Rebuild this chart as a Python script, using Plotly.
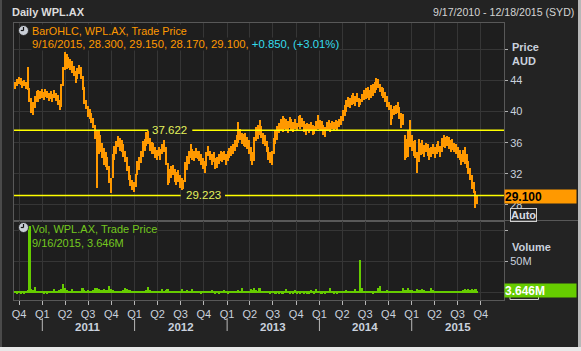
import numpy as np
import pandas as pd
import plotly.graph_objects as go
from plotly.subplots import make_subplots

# ---------------- data ----------------
week_dates = list(pd.date_range("2010-09-17", periods=261, freq="7D")) + [pd.Timestamp("2015-09-16")]

price_low = [
    42.9, 43.3, 43.6, 43.4, 43.0, 43.3, 42.9, 42.8, 41.3, 39.8,
    39.6, 40.5, 41.2, 41.3, 41.6, 41.8, 41.5, 41.9, 41.7, 41.4,
    41.6, 41.3, 41.8, 41.4, 40.8, 40.2, 40.6, 43.3, 45.3, 45.5,
    45.6, 45.3, 45.0, 44.6, 43.7, 44.2, 44.8, 44.2, 42.8, 41.0,
    40.3, 39.3, 39.0, 38.5, 37.9, 36.5, 30.2, 34.5, 34.8, 34.0,
    33.2, 32.9, 32.5, 30.8, 29.5, 31.5, 33.8, 34.5, 35.5, 35.0,
    34.8, 34.2, 33.5, 32.4, 31.2, 30.4, 29.9, 29.7, 30.3, 31.8,
    32.5, 33.4, 34.2, 35.0, 35.6, 35.8, 35.0, 34.6, 34.5, 34.1,
    33.8, 34.3, 33.8, 34.5, 34.8, 33.2, 30.6, 30.8, 31.5, 31.8,
    31.0, 30.6, 30.9, 30.2, 29.9, 30.0, 31.0, 32.5, 33.3, 34.0,
    33.8, 33.6, 34.0, 33.9, 33.7, 33.2, 32.6, 32.1, 33.0, 34.3,
    33.8, 33.2, 33.5, 32.6, 32.8, 33.3, 33.7, 33.5, 33.8, 33.2,
    33.6, 34.0, 34.3, 34.6, 35.0, 35.4, 36.0, 36.3, 35.8, 35.6,
    35.5, 35.2, 34.5, 33.6, 33.1, 33.6, 36.2, 36.5, 37.0, 36.6,
    35.8, 35.6, 34.8, 33.8, 33.4, 33.1, 34.5, 35.8, 36.3, 37.3,
    37.6, 37.4, 37.8, 37.5, 37.2, 37.9, 37.6, 37.4, 37.8, 37.5,
    38.0, 37.8, 38.0, 37.4, 37.0, 37.5, 37.2, 37.6, 37.0, 37.1,
    37.6, 37.8, 37.5, 37.6, 37.0, 36.8, 37.6, 37.7, 37.4, 37.8,
    37.5, 37.8, 37.6, 38.0, 38.3, 38.8, 39.5, 40.0, 40.6, 40.5,
    40.8, 41.0, 40.7, 41.2, 40.6, 40.8, 41.2, 41.5, 41.6, 41.8,
    41.5, 41.8, 42.0, 42.4, 42.8, 43.0, 42.5, 42.0, 41.8, 41.3,
    40.6, 40.2, 38.3, 39.0, 39.6, 39.7, 39.8, 39.0, 37.9, 38.3,
    33.8, 34.0, 34.2, 35.5, 35.0, 34.3, 34.0, 32.1, 33.5, 34.4,
    34.6, 34.2, 34.8, 34.3, 33.8, 34.2, 34.5, 34.0, 34.6, 34.8,
    34.2, 34.8, 35.5, 35.3, 35.6, 35.2, 34.8, 35.1, 34.8, 34.5,
    34.0, 33.8, 33.1, 33.5, 33.3, 32.8, 32.0, 31.2, 30.0, 29.5,
    27.6, 28.17,
]

price_high = [
    43.8, 44.2, 44.5, 44.3, 44.0, 44.1, 43.8, 45.7, 43.0, 41.8,
    41.2, 42.0, 42.6, 42.8, 42.6, 42.9, 42.5, 42.9, 42.6, 42.4,
    42.7, 42.3, 42.8, 42.4, 42.2, 41.5, 43.5, 45.8, 47.7, 47.4,
    47.0, 46.8, 46.5, 45.9, 45.2, 45.6, 46.0, 45.8, 44.6, 43.2,
    41.5, 40.7, 40.3, 39.8, 39.2, 38.3, 37.5, 37.5, 37.0, 36.0,
    35.3, 34.8, 34.2, 33.0, 31.5, 34.5, 35.6, 36.2, 36.9, 36.6,
    36.4, 35.8, 35.0, 34.2, 33.0, 31.8, 31.2, 31.0, 32.0, 33.6,
    34.2, 35.0, 36.2, 36.5, 37.4, 37.5, 36.6, 36.1, 36.0, 35.4,
    35.1, 35.5, 35.2, 35.8, 36.4, 35.5, 33.4, 32.6, 33.0, 33.1,
    32.6, 32.2, 32.5, 31.8, 31.5, 31.2, 33.5, 34.3, 35.0, 35.8,
    35.2, 35.0, 35.3, 35.0, 34.9, 34.5, 34.0, 33.6, 34.8, 35.6,
    35.0, 34.6, 34.8, 34.0, 34.2, 34.6, 35.0, 34.8, 35.0, 34.6,
    35.0, 35.3, 35.6, 35.9, 36.4, 37.0, 38.7, 37.8, 37.3, 37.1,
    37.2, 36.8, 36.3, 35.4, 34.8, 36.8, 38.0, 38.3, 38.9, 38.2,
    37.3, 37.0, 36.2, 35.4, 34.8, 35.0, 36.6, 37.5, 38.2, 38.6,
    39.0, 39.4, 39.2, 39.0, 38.8, 39.3, 39.0, 38.7, 39.0, 38.6,
    39.4, 39.6, 39.2, 38.8, 38.4, 38.6, 38.4, 38.7, 38.3, 38.2,
    38.8, 39.6, 38.9, 38.8, 38.3, 38.0, 38.7, 38.9, 38.6, 38.8,
    38.7, 38.9, 38.8, 39.1, 39.4, 40.2, 40.8, 41.5, 41.9, 41.8,
    42.2, 42.4, 42.0, 42.4, 41.8, 41.6, 42.3, 42.8, 43.0, 43.2,
    42.8, 43.4, 43.6, 43.8, 44.3, 44.2, 43.6, 43.2, 43.0, 42.5,
    42.0, 41.3, 40.8, 40.3, 40.7, 40.9, 41.2, 40.6, 39.8, 39.7,
    37.0, 36.5, 37.5, 38.9, 37.0, 36.2, 36.4, 34.8, 36.5, 36.0,
    36.3, 35.7, 36.0, 35.8, 35.3, 35.5, 35.9, 35.4, 35.9, 36.2,
    35.6, 36.6, 37.0, 36.8, 36.9, 36.8, 36.3, 36.5, 36.0, 35.8,
    35.4, 35.1, 34.6, 35.1, 35.5, 34.6, 33.6, 32.8, 31.8, 31.0,
    29.8, 29.15,
]

volume_m = [
    3.5, 3.0, 3.2, 2.8, 3.4, 3.0, 3.6, 4.5, 108.0, 7.0,
    5.0, 9.5, 4.0, 3.5, 3.2, 3.8, 3.0, 3.4, 3.1, 3.6,
    3.3, 4.2, 6.0, 3.5, 4.0, 4.8, 6.5, 14.0, 8.0, 5.5,
    4.0, 3.5, 6.0, 3.8, 4.2, 3.6, 4.0, 3.5, 8.0, 4.5,
    4.0, 4.8, 3.6, 4.2, 5.0, 9.0, 8.5, 7.0, 4.5, 5.0,
    7.0, 4.5, 5.0, 12.0, 6.0, 5.5, 4.0, 3.8, 4.2, 3.6,
    4.0, 4.5, 8.0, 6.0, 4.5, 5.0, 4.2, 3.8, 4.0, 3.5,
    3.8, 4.2, 3.6, 4.0, 5.0, 10.0, 4.5, 3.8, 4.0, 3.4,
    3.6, 3.2, 3.8, 6.0, 4.0, 4.5, 7.0, 4.2, 3.8, 4.0,
    3.5, 4.0, 3.6, 4.2, 6.0, 4.0, 3.8, 4.5, 3.6, 3.4,
    6.0, 3.8, 3.5, 3.2, 3.6, 3.0, 3.4, 3.8, 3.2, 3.5,
    3.6, 5.5, 3.2, 3.0, 3.4, 3.1, 3.6, 3.3, 5.0, 3.2,
    3.0, 3.4, 3.2, 3.6, 3.3, 3.8, 4.5, 3.6, 8.0, 4.0,
    3.5, 3.8, 4.2, 7.0, 4.5, 9.0, 5.0, 4.0, 9.0, 4.2,
    3.8, 4.0, 3.4, 3.2, 3.0, 3.5, 3.2, 3.0, 3.4, 3.1,
    3.3, 3.0, 3.6, 6.0, 3.2, 3.0, 3.4, 3.1, 4.5, 3.0,
    3.2, 2.9, 3.3, 3.0, 3.4, 3.1, 2.8, 4.5, 3.2, 3.0,
    6.0, 3.2, 3.4, 3.0, 3.3, 3.1, 3.5, 3.2, 8.0, 3.4,
    3.0, 3.3, 3.1, 3.4, 3.2, 3.6, 3.8, 4.5, 3.5, 3.3,
    3.6, 3.4, 6.0, 3.5, 3.8, 54.0, 8.0, 3.6, 3.4, 3.2,
    3.5, 3.3, 3.0, 3.6, 3.4, 8.0, 12.0, 4.0, 3.8, 3.6,
    4.5, 3.8, 4.0, 3.6, 3.4, 3.8, 3.5, 3.6, 4.0, 8.0,
    5.5, 4.5, 8.0, 5.0, 4.5, 4.2, 4.0, 6.0, 4.8, 4.5,
    6.0, 5.0, 4.2, 3.8, 4.0, 9.0, 4.5, 4.0, 3.6, 3.8,
    4.0, 3.6, 3.4, 3.8, 3.5, 3.6, 3.4, 4.0, 3.6, 3.8,
    3.5, 3.8, 4.0, 4.5, 6.0, 4.5, 6.0, 5.5, 6.0, 5.0,
    6.5, 3.646,
]

levels = [37.622, 29.223]
level_labels = ["37.622", "29.223"]

quarter_ticks = ["2010-10-01",
                 "2011-01-01", "2011-04-01", "2011-07-01", "2011-10-01",
                 "2012-01-01", "2012-04-01", "2012-07-01", "2012-10-01",
                 "2013-01-01", "2013-04-01", "2013-07-01", "2013-10-01",
                 "2014-01-01", "2014-04-01", "2014-07-01", "2014-10-01",
                 "2015-01-01", "2015-04-01", "2015-07-01", "2015-10-01"]
quarter_labels = ["Q4"] + ["Q1", "Q2", "Q3", "Q4"] * 5
years = ["2011", "2012", "2013", "2014", "2015"]

price_ticks = [28, 32, 36, 40, 44, 48]
price_tick_text = ["28", "32", "36", "40", "44", ""]
vol_ticks = [0, 50, 100]
vol_tick_text = ["", "50M", ""]

last_date = "9/16/2015"
last_open, last_high, last_low, last_close = 28.300, 29.150, 28.170, 29.100
last_change, last_pct = 0.850, 3.01
last_volume = 3.646

# ---------------- layout helpers ----------------
W, H = 581, 351
L, R, T, B = 14, 77, 23, 51
PW, PH = W - L - R, H - T - B

def px(x):
    return (x - L) / PW

def py(y):
    return (H - B - y) / PH

BG = "#232323"
PLOT_BG = "#1e1e1e"
GRID = "#363636"
FRAME = "#585858"
AXTXT = "#c9d1dd"
ORANGE = "#FF9900"
GREEN = "#66CC00"
FONT = "Liberation Sans, Arial, sans-serif"
DAY = 86400000

split = py(220.5)

fig = make_subplots(rows=2, cols=1, shared_xaxes=True, vertical_spacing=0)

low = np.array(price_low)
high = np.array(price_high)
fig.add_trace(go.Bar(x=week_dates, y=high - low, base=low, width=5.5 * DAY,
                     marker=dict(color=ORANGE, line=dict(width=0)),
                     name="BarOHLC", hoverinfo="skip"), row=1, col=1)
fig.add_trace(go.Bar(x=week_dates, y=volume_m, width=6.5 * DAY,
                     marker=dict(color=GREEN, line=dict(width=0)),
                     name="Vol", hoverinfo="skip"), row=2, col=1)

xcommon = dict(range=["2010-09-11", "2016-01-01"], tickvals=quarter_ticks,
               showgrid=True, gridcolor=GRID, gridwidth=1,
               showline=True, linecolor=FRAME, linewidth=1, mirror=True,
               zeroline=False, fixedrange=True)
fig.update_xaxes(**xcommon)
fig.update_layout(
    xaxis=dict(showticklabels=False, ticks=""),
    xaxis2=dict(ticktext=quarter_labels, ticks="outside", ticklen=4, tickcolor="#b8b8b8",
                tickfont=dict(family=FONT, size=11, color=AXTXT)),
    yaxis=dict(domain=[split, 1], side="right", range=[26.0, 51.4],
               tickvals=price_ticks, ticktext=price_tick_text,
               ticks="outside", ticklen=3, tickcolor="#b0b0b0",
               tickfont=dict(family=FONT, size=11, color=AXTXT),
               showgrid=True, gridcolor=GRID, zeroline=False,
               showline=True, linecolor=FRAME, mirror=True),
    yaxis2=dict(domain=[0, split], side="right", range=[-11.7, 115.7],
                tickvals=vol_ticks, ticktext=vol_tick_text,
                ticks="outside", ticklen=3, tickcolor="#b0b0b0",
                tickfont=dict(family=FONT, size=11, color=AXTXT),
                showgrid=True, gridcolor=GRID, zeroline=False,
                showline=True, linecolor=FRAME, mirror=True),
)

shapes = []
annotations = []

# level lines with gaps for labels
gaps = [(148.3, 192.3), (180.7, 225.0)]
label_x = [169.5, 203.0]
for lv, lab, (g0, g1), lx in zip(levels, level_labels, gaps, label_x):
    shapes.append(dict(type="line", xref="paper", yref="y", x0=0, x1=px(g0), y0=lv, y1=lv,
                       line=dict(color="#FFFF00", width=1.5)))
    shapes.append(dict(type="line", xref="paper", yref="y", x0=px(g1), x1=1, y0=lv, y1=lv,
                       line=dict(color="#FFFF00", width=1.5)))
    annotations.append(dict(xref="paper", yref="y", x=px(lx), y=lv, text=lab, showarrow=False,
                            font=dict(family=FONT, size=11.5, color="#e4f25c"),
                            xanchor="center", yanchor="middle"))

# year separators and labels
for yr in years:
    shapes.append(dict(type="line", xref="x", yref="paper", x0=f"{yr}-01-01", x1=f"{yr}-01-01",
                       y0=py(318), y1=py(331), line=dict(color="#b8b8b8", width=1)))
    annotations.append(dict(xref="x", yref="paper", x=f"{yr}-07-02", y=py(326.5), text=f"<b>{yr}</b>",
                            showarrow=False, font=dict(family=FONT, size=11.5, color=AXTXT),
                            xanchor="center", yanchor="middle", borderpad=0))

# separator extending into the right axis area
shapes.append(dict(type="line", xref="paper", yref="paper", x0=1, x1=px(578), y0=split, y1=split,
                   line=dict(color=FRAME, width=1)))

# window edges
shapes.append(dict(type="rect", xref="paper", yref="paper", x0=px(0), x1=px(2), y0=py(351), y1=py(0),
                   fillcolor="#4a4a4a", line=dict(width=0)))
shapes.append(dict(type="rect", xref="paper", yref="paper", x0=px(578), x1=px(581), y0=py(351), y1=py(0),
                   fillcolor="#b8b8b8", line=dict(width=0)))
shapes.append(dict(type="rect", xref="paper", yref="paper", x0=px(0), x1=px(581), y0=py(351), y1=py(347),
                   fillcolor="#e8e8e8", line=dict(width=0)))

# outline of the volume "Auto" box, mostly hidden behind the last-volume tag
shapes.append(dict(type="rect", xref="paper", yref="paper", x0=px(510), x1=px(538.5),
                   y0=py(299.5), y1=py(288), line=dict(color="#d0d0d0", width=1)))

# clock icons
for cy in (30.5, 227.5):
    shapes.append(dict(type="circle", xref="paper", yref="paper", x0=px(18.5), x1=px(28.5),
                       y0=py(cy + 5), y1=py(cy - 5), fillcolor="#c9ced6",
                       line=dict(color="#2a2a2a", width=1)))
    shapes.append(dict(type="line", xref="paper", yref="paper", x0=px(23.5), x1=px(23.5),
                       y0=py(cy), y1=py(cy - 3.5), line=dict(color="#111", width=1.2)))
    shapes.append(dict(type="line", xref="paper", yref="paper", x0=px(23.5), x1=px(20.8),
                       y0=py(cy), y1=py(cy), line=dict(color="#111", width=1.2)))

# title bar
annotations.append(dict(xref="paper", yref="paper", x=px(10), y=py(12), text="<b>Daily WPL.AX</b>",
                        showarrow=False, xanchor="left", yanchor="middle",
                        font=dict(family=FONT, size=11, color="#dcdcdc")))
annotations.append(dict(xref="paper", yref="paper", x=px(576), y=py(12),
                        text="9/17/2010 - 12/18/2015 (SYD)", showarrow=False,
                        xanchor="right", yanchor="middle",
                        font=dict(family=FONT, size=10.6, color="#d4d4d4")))

# price legend
annotations.append(dict(xref="paper", yref="paper", x=px(31), y=py(30.5),
                        text="BarOHLC, WPL.AX, Trade Price", showarrow=False,
                        xanchor="left", yanchor="middle", bgcolor=PLOT_BG, borderpad=0,
                        font=dict(family=FONT, size=10.8, color=ORANGE)))
line2 = (f"{last_date}, {last_open:.3f}, {last_high:.3f}, {last_low:.3f}, {last_close:.3f}, "
         f"<span style='color:#35dced'>+{last_change:.3f}, (+{last_pct:.2f}%)</span>")
annotations.append(dict(xref="paper", yref="paper", x=px(31), y=py(44), text=line2, showarrow=False,
                        xanchor="left", yanchor="middle", bgcolor=PLOT_BG, borderpad=0,
                        font=dict(family=FONT, size=11.3, color=ORANGE)))

# volume legend
annotations.append(dict(xref="paper", yref="paper", x=px(31), y=py(229),
                        text="Vol, WPL.AX, Trade Price", showarrow=False,
                        xanchor="left", yanchor="middle", bgcolor=PLOT_BG, borderpad=0,
                        font=dict(family=FONT, size=11, color="#74c81e")))
annotations.append(dict(xref="paper", yref="paper", x=px(31), y=py(243),
                        text=f"{last_date}, {last_volume:.3f}M", showarrow=False,
                        xanchor="left", yanchor="middle", bgcolor=PLOT_BG, borderpad=0,
                        font=dict(family=FONT, size=11, color="#74c81e")))

# right axis titles
for txt, yy in (("Price", 46.5), ("AUD", 60.5), ("Volume", 246.5)):
    annotations.append(dict(xref="paper", yref="paper", x=px(509.5), y=py(yy), text=f"<b>{txt}</b>",
                            showarrow=False, xanchor="left", yanchor="middle",
                            font=dict(family=FONT, size=11, color=AXTXT)))

# price "Auto" box
annotations.append(dict(xref="paper", yref="paper", x=px(510), y=py(214.5), text="<b>Auto</b>",
                        showarrow=False, xanchor="left", yanchor="middle",
                        bordercolor="#d0d0d0", borderwidth=1, borderpad=0,
                        font=dict(family=FONT, size=11, color="#d8dce4")))

# last value boxes
annotations.append(dict(xref="paper", yref="y", x=1, y=last_close, text=f"<b>{last_close:.3f}</b>",
                        showarrow=False, xanchor="left", yanchor="middle", align="left",
                        width=71, height=13, bgcolor=ORANGE, borderpad=0,
                        font=dict(family=FONT, size=12, color="#000000")))
annotations.append(dict(xref="paper", yref="y2", x=1, y=last_volume, text=f"<b>{last_volume:.3f}M</b>",
                        showarrow=False, xanchor="left", yanchor="middle", align="left",
                        width=71, height=13, bgcolor=GREEN, borderpad=0,
                        font=dict(family=FONT, size=12, color="#ffffff")))

fig.update_layout(
    width=W, height=H, autosize=False,
    margin=dict(l=L, r=R, t=T, b=B, pad=0),
    paper_bgcolor=BG, plot_bgcolor=PLOT_BG,
    showlegend=False, bargap=0,
    font=dict(family=FONT, size=11, color=AXTXT),
    shapes=shapes, annotations=annotations,
)

fig.write_html("out.html", config={"displayModeBar": False})
